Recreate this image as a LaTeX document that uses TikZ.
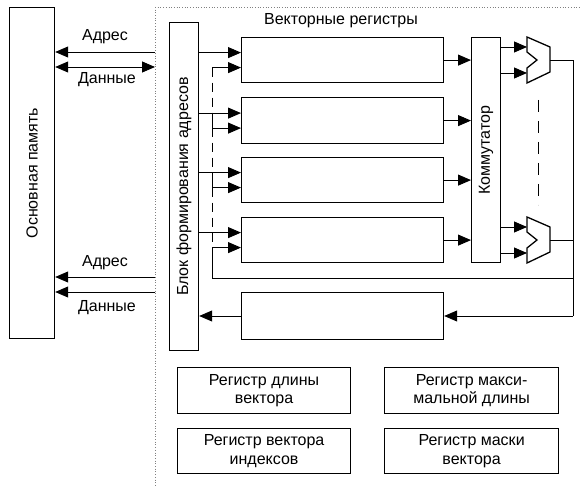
\documentclass[tikz,border=0pt]{standalone}
\usepackage{fontspec}
\setmainfont{Liberation Sans}
\usetikzlibrary{arrows.meta,calc}
\begin{document}
\begin{tikzpicture}[x=1pt,y=-1pt,
  box/.style={draw,line width=1.2pt,inner sep=0pt,anchor=north west,align=center,font=\fontsize{16}{18.5}\selectfont},
  conn/.style={line width=0.9pt},
  arr/.style={conn,-{Triangle[length=13pt,width=11pt]}},
  darr/.style={conn,{Triangle[length=13pt,width=11pt]}-{Triangle[length=13pt,width=11pt]}},
  lab/.style={font=\fontsize{16}{18.5}\selectfont,inner sep=0pt},
  sep/.style={dotted,line width=0.7pt,gray},
  mux/.style={line width=1.3pt,line join=miter}
]
\useasboundingbox (0,0) rectangle (580,486);
\fill[white] (0,0) rectangle (580,486);

% separators
\draw[sep] (155,7) -- (155,486);
\draw[sep] (155,7) -- (580,7);

% main boxes
\node[box,minimum width=45pt,minimum height=331pt] (mem) at (9,7) {};
\node[lab,rotate=90] at (mem.center) {Основная память};
\node[box,minimum width=29pt,minimum height=328pt] (blk) at (169,22) {};
\node[lab,rotate=90] at (blk.center) {Блок формирования адресов};
\node[box,minimum width=29pt,minimum height=225pt] (kom) at (471,37) {};
\node[lab,rotate=90] at (kom.center) {Коммутатор};

\node[box,minimum width=202pt,minimum height=45pt] (r1) at (241,37) {};
\node[box,minimum width=202pt,minimum height=46pt] (r2) at (241,97) {};
\node[box,minimum width=202pt,minimum height=45pt] (r3) at (241,157) {};
\node[box,minimum width=202pt,minimum height=45pt] (r4) at (241,217) {};
\node[box,minimum width=202pt,minimum height=47pt] (r5) at (241,292) {};
\node[lab] (title) at (341,21) {Векторные регистры};

\node[box,minimum width=173pt,minimum height=46pt] (b1) at (177,367) {Регистр длины\\вектора};
\node[box,minimum width=173pt,minimum height=45pt] (b2) at (177,428) {Регистр вектора\\индексов};
\node[box,minimum width=174pt,minimum height=46pt] (b3) at (384,367) {Регистр макси-\\мальной длины};
\node[box,minimum width=174pt,minimum height=45pt] (b4) at (384,428) {Регистр маски\\вектора};

% memory links
\coordinate (a1) at (155,52);
\coordinate (d1) at (155,67);
\coordinate (a2) at (155,277);
\coordinate (d2) at (155,292);
\draw[arr] (a1) -- (mem.east |- a1);
\draw[darr] (mem.east |- d1) -- (d1);
\draw[arr] (a2) -- (mem.east |- a2);
\draw[arr] (d2) -- (mem.east |- d2);
\node[lab] at (105,37) {Адрес};
\node[lab] at (107,80) {Данные};
\node[lab] at (105,263) {Адрес};
\node[lab] at (107,308) {Данные};

% register inputs
\foreach \r in {r1,r2,r3,r4}{
  \coordinate (\r u) at ($(\r.west)+(0,-7.5)$);
  \coordinate (\r l) at ($(\r.west)+(0,7.5)$);
  \draw[arr] (blk.east |- \r u) -- (\r u);
  \draw[arr] (212,0 |- \r l) -- (\r l);
  \draw[arr] (\r.east) -- (kom.west |- \r.east);
}
% feedback bus
\coordinate (fb) at (212,278);
\draw[conn,dashed,dash pattern=on 9pt off 6pt] (fb |- r1l) -- (fb |- r4l);
\draw[conn] (fb |- r4l) -- (fb) -- (573,278);
\foreach \r in {r2,r3}{
  \draw[conn] ($(fb |- \r l)+(0,-6)$) -- ($(fb |- \r l)+(0,2)$);
}

% multiplexers
\foreach \m/\c in {m1/60,m2/240}{
  \coordinate (\m) at (527,\c);
  \draw[mux] (527,\c-23) -- (550,\c-13) -- (550,\c+12) -- (527,\c+23) -- (527,\c+8) -- (537,\c) -- (527,\c-8) -- cycle;
  \coordinate (\m i1) at (527,\c-13);
  \coordinate (\m i2) at (527,\c+13);
  \coordinate (\m o) at (550,\c);
  \draw[arr] (kom.east |- \m i1) -- (\m i1);
  \draw[arr] (kom.east |- \m i2) -- (\m i2);
}
\coordinate (rb) at (573,316);
\draw[conn] (m1o) -- (rb |- m1o) -- (rb);
\draw[conn] (m2o) -- (rb |- m2o);
\draw[arr] (rb) -- (r5.east |- rb);
\draw[arr] (r5.west |- rb) -- (blk.east |- rb);
\draw[conn,dashed,dash pattern=on 12pt off 9pt] (538,100) -- (538,205);
\end{tikzpicture}
\end{document}
